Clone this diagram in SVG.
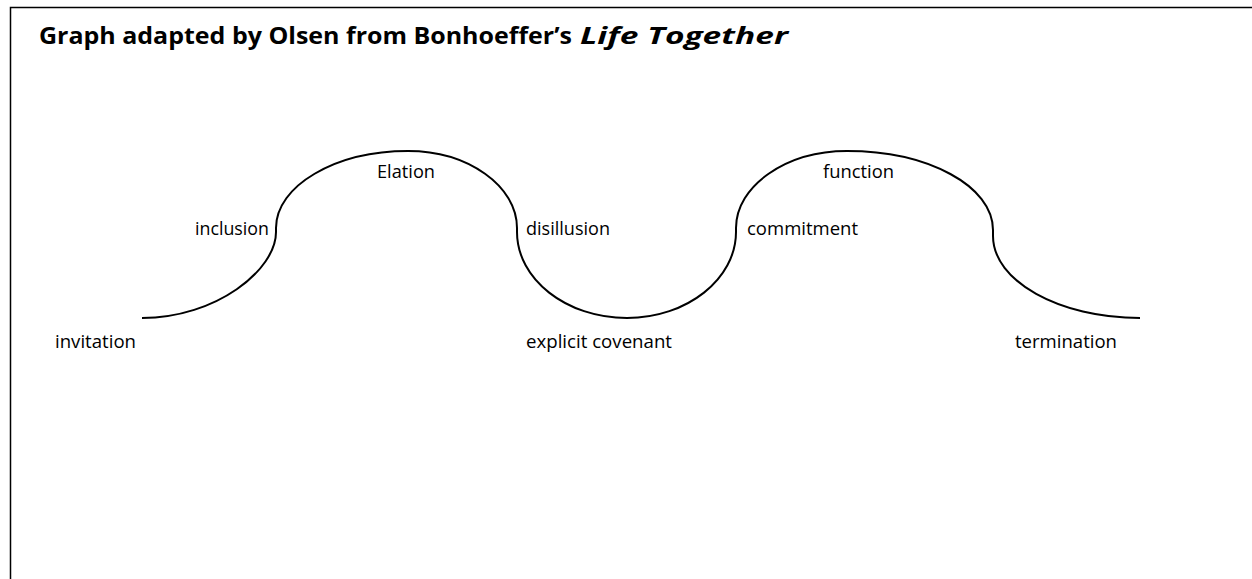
<svg xmlns="http://www.w3.org/2000/svg" width="1252" height="579" viewBox="0 0 1252 579">
<style>
.frame{fill:none;stroke:#000;stroke-width:1.5}
.curve{fill:none;stroke:#000;stroke-width:2}
.title{font-family:"Open Sans","Liberation Sans",sans-serif;font-weight:bold;font-size:23px;fill:#000}
.lbl{font-family:"Open Sans","Liberation Sans",sans-serif;font-size:18px;fill:#000}
</style>
<rect width="1252" height="579" fill="#fff"/>
<path class="frame" d="M10.5,579 V7.5 H1252"/>
<text class="title" y="43.5"><tspan x="39" textLength="533" lengthAdjust="spacingAndGlyphs">Graph adapted by Olsen from Bonhoeffer’s</tspan><tspan x="580" font-style="italic" textLength="208" lengthAdjust="spacingAndGlyphs">Life Together</tspan></text>
<g id="connectors">
<path class="curve" d="M142,318 C216,318 276,270 276,232 L276,228 C276,186 335,151 408,151 C468,151 517,186 517,228 L517,232 C517,279 566,318 627,318 C687,318 736,279 736,232 L736,228 C736,186 786,151 847,151 C928,151 993,186 993,230 L993,236 C993,281 1059,318 1140,318"/>
</g>
<g id="invitation"><text class="lbl" x="55" y="348" textLength="81" lengthAdjust="spacingAndGlyphs">invitation</text></g>
<g id="inclusion"><text class="lbl" x="195" y="235" textLength="74" lengthAdjust="spacingAndGlyphs">inclusion</text></g>
<g id="elation"><text class="lbl" x="377" y="178" textLength="58" lengthAdjust="spacingAndGlyphs">Elation</text></g>
<g id="disillusion"><text class="lbl" x="526" y="235" textLength="84" lengthAdjust="spacingAndGlyphs">disillusion</text></g>
<g id="explicit-covenant"><text class="lbl" x="526" y="348" textLength="146" lengthAdjust="spacingAndGlyphs">explicit covenant</text></g>
<g id="commitment"><text class="lbl" x="747" y="235" textLength="111" lengthAdjust="spacingAndGlyphs">commitment</text></g>
<g id="function"><text class="lbl" x="823" y="178" textLength="71" lengthAdjust="spacingAndGlyphs">function</text></g>
<g id="termination"><text class="lbl" x="1015" y="348" textLength="102" lengthAdjust="spacingAndGlyphs">termination</text></g>
</svg>
